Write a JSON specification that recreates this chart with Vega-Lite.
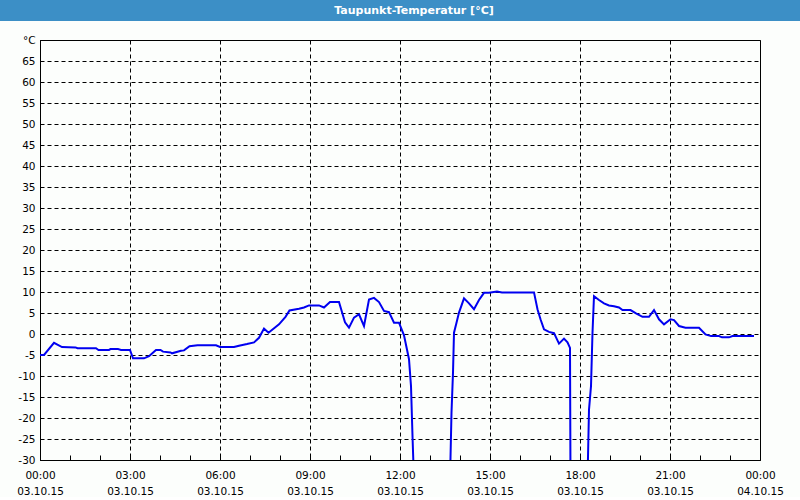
{
  "$schema": "https://vega.github.io/schema/vega-lite/v6.json",
  "background": "#fcfefc",
  "padding": 0,
  "autosize": {"type": "pad"},
  "bounds": "flush",
  "center": true,
  "spacing": 19,
  "config": {"view": {"stroke": null}, "font": "DejaVu Sans"},
  "vconcat": [
    {
      "width": 800,
      "height": 21,
      "view": {"fill": "#3c8fc6", "stroke": null},
      "data": {"values": [{"title": "Taupunkt-Temperatur [°C]"}]},
      "mark": {"type": "text", "color": "white", "fontWeight": "bold", "fontSize": 11, "dx": 14},
      "encoding": {"text": {"field": "title", "type": "nominal"}}
    },
    {
      "width": 720,
      "height": 420,
      "view": {"stroke": "black", "strokeWidth": 1},
      "data": {"values": [
        {"time": "2015-10-03T00:00", "value": -5.0},
        {"time": "2015-10-03T00:08", "value": -5.0},
        {"time": "2015-10-03T00:28", "value": -2.1},
        {"time": "2015-10-03T00:44", "value": -3.1},
        {"time": "2015-10-03T01:11", "value": -3.2},
        {"time": "2015-10-03T01:15", "value": -3.4},
        {"time": "2015-10-03T01:52", "value": -3.4},
        {"time": "2015-10-03T01:57", "value": -3.8},
        {"time": "2015-10-03T02:18", "value": -3.8},
        {"time": "2015-10-03T02:21", "value": -3.6},
        {"time": "2015-10-03T02:36", "value": -3.6},
        {"time": "2015-10-03T02:42", "value": -3.8},
        {"time": "2015-10-03T03:00", "value": -3.8},
        {"time": "2015-10-03T03:06", "value": -5.8},
        {"time": "2015-10-03T03:28", "value": -5.8},
        {"time": "2015-10-03T03:38", "value": -5.3},
        {"time": "2015-10-03T03:52", "value": -3.8},
        {"time": "2015-10-03T04:01", "value": -3.8},
        {"time": "2015-10-03T04:06", "value": -4.2},
        {"time": "2015-10-03T04:21", "value": -4.4},
        {"time": "2015-10-03T04:24", "value": -4.6},
        {"time": "2015-10-03T04:42", "value": -4.0},
        {"time": "2015-10-03T04:48", "value": -3.9},
        {"time": "2015-10-03T04:59", "value": -2.9},
        {"time": "2015-10-03T05:15", "value": -2.7},
        {"time": "2015-10-03T05:52", "value": -2.7},
        {"time": "2015-10-03T06:00", "value": -3.1},
        {"time": "2015-10-03T06:28", "value": -3.1},
        {"time": "2015-10-03T06:38", "value": -2.8},
        {"time": "2015-10-03T06:54", "value": -2.4},
        {"time": "2015-10-03T07:08", "value": -2.0},
        {"time": "2015-10-03T07:18", "value": -0.9},
        {"time": "2015-10-03T07:28", "value": 1.3},
        {"time": "2015-10-03T07:37", "value": 0.3},
        {"time": "2015-10-03T07:58", "value": 2.3},
        {"time": "2015-10-03T08:11", "value": 4.1},
        {"time": "2015-10-03T08:19", "value": 5.6},
        {"time": "2015-10-03T08:38", "value": 6.0},
        {"time": "2015-10-03T08:48", "value": 6.3},
        {"time": "2015-10-03T08:58", "value": 6.8},
        {"time": "2015-10-03T09:18", "value": 6.8},
        {"time": "2015-10-03T09:28", "value": 6.3},
        {"time": "2015-10-03T09:40", "value": 7.6},
        {"time": "2015-10-03T09:58", "value": 7.6},
        {"time": "2015-10-03T10:10", "value": 2.8},
        {"time": "2015-10-03T10:18", "value": 1.5},
        {"time": "2015-10-03T10:28", "value": 3.9},
        {"time": "2015-10-03T10:38", "value": 4.7},
        {"time": "2015-10-03T10:48", "value": 1.9},
        {"time": "2015-10-03T10:58", "value": 8.2},
        {"time": "2015-10-03T11:08", "value": 8.6},
        {"time": "2015-10-03T11:18", "value": 7.6},
        {"time": "2015-10-03T11:28", "value": 5.5},
        {"time": "2015-10-03T11:38", "value": 5.2},
        {"time": "2015-10-03T11:48", "value": 2.7},
        {"time": "2015-10-03T11:58", "value": 2.7},
        {"time": "2015-10-03T12:08", "value": -0.3},
        {"time": "2015-10-03T12:18", "value": -6.0},
        {"time": "2015-10-03T12:22", "value": -12.4},
        {"time": "2015-10-03T12:25", "value": -24.3},
        {"time": "2015-10-03T12:28", "value": -35},
        {"time": "2015-10-03T13:40", "value": -35},
        {"time": "2015-10-03T13:43", "value": -18.7},
        {"time": "2015-10-03T13:46", "value": -9.2},
        {"time": "2015-10-03T13:48", "value": 0.3},
        {"time": "2015-10-03T13:53", "value": 2.7},
        {"time": "2015-10-03T13:58", "value": 5.1},
        {"time": "2015-10-03T14:08", "value": 8.5},
        {"time": "2015-10-03T14:18", "value": 7.3},
        {"time": "2015-10-03T14:28", "value": 5.9},
        {"time": "2015-10-03T14:38", "value": 8.1},
        {"time": "2015-10-03T14:48", "value": 9.8},
        {"time": "2015-10-03T14:58", "value": 9.8},
        {"time": "2015-10-03T15:14", "value": 10.1},
        {"time": "2015-10-03T15:24", "value": 9.9},
        {"time": "2015-10-03T16:28", "value": 9.9},
        {"time": "2015-10-03T16:35", "value": 5.9},
        {"time": "2015-10-03T16:41", "value": 3.5},
        {"time": "2015-10-03T16:48", "value": 1.1},
        {"time": "2015-10-03T16:58", "value": 0.5},
        {"time": "2015-10-03T17:08", "value": 0.2},
        {"time": "2015-10-03T17:18", "value": -2.3},
        {"time": "2015-10-03T17:28", "value": -1.1},
        {"time": "2015-10-03T17:35", "value": -2.0},
        {"time": "2015-10-03T17:40", "value": -3.3},
        {"time": "2015-10-03T17:41", "value": -35},
        {"time": "2015-10-03T18:15", "value": -35},
        {"time": "2015-10-03T18:18", "value": -18.0},
        {"time": "2015-10-03T18:22", "value": -12.4},
        {"time": "2015-10-03T18:25", "value": 0.3},
        {"time": "2015-10-03T18:28", "value": 9.0},
        {"time": "2015-10-03T18:38", "value": 8.1},
        {"time": "2015-10-03T18:48", "value": 7.3},
        {"time": "2015-10-03T18:58", "value": 6.8},
        {"time": "2015-10-03T19:08", "value": 6.6},
        {"time": "2015-10-03T19:18", "value": 6.3},
        {"time": "2015-10-03T19:25", "value": 5.7},
        {"time": "2015-10-03T19:41", "value": 5.7},
        {"time": "2015-10-03T19:52", "value": 4.9},
        {"time": "2015-10-03T20:05", "value": 4.1},
        {"time": "2015-10-03T20:18", "value": 4.1},
        {"time": "2015-10-03T20:28", "value": 5.7},
        {"time": "2015-10-03T20:38", "value": 3.5},
        {"time": "2015-10-03T20:48", "value": 2.3},
        {"time": "2015-10-03T21:01", "value": 3.5},
        {"time": "2015-10-03T21:08", "value": 3.3},
        {"time": "2015-10-03T21:18", "value": 1.9},
        {"time": "2015-10-03T21:31", "value": 1.5},
        {"time": "2015-10-03T21:58", "value": 1.5},
        {"time": "2015-10-03T22:11", "value": -0.1},
        {"time": "2015-10-03T22:22", "value": -0.5},
        {"time": "2015-10-03T22:38", "value": -0.5},
        {"time": "2015-10-03T22:44", "value": -0.8},
        {"time": "2015-10-03T22:58", "value": -0.8},
        {"time": "2015-10-03T23:05", "value": -0.5},
        {"time": "2015-10-03T23:48", "value": -0.5}
      ]},
      "resolve": {"axis": {"x": "independent"}},
      "layer": [
        {
          "mark": {"type": "line", "color": "#0000f0", "strokeWidth": 2, "clip": true},
          "encoding": {
            "x": {
              "field": "time",
              "type": "temporal",
              "scale": {"domain": [{"year": 2015, "month": 10, "date": 3, "hours": 0}, {"year": 2015, "month": 10, "date": 4, "hours": 0}], "nice": false},
              "axis": {
                "orient": "bottom",
                "title": null,
                "tickCount": 8,
                "labelExpr": "[timeFormat(datum.value, '%H:%M'), timeFormat(datum.value, '%d.%m.%y')]",
                "labelOverlap": false,
                "labelFlush": false,
                "labelBaseline": "top",
                "labelPadding": 10,
                "labelLineHeight": 16,
                "labelFontSize": 10.5,
                "labelColor": "black",
                "ticks": false,
                "domainColor": "black",
                "grid": true,
                "gridColor": "black",
                "gridDash": [4, 3]
              }
            },
            "y": {
              "field": "value",
              "type": "quantitative",
              "scale": {"domain": [-30, 70], "nice": false, "zero": false},
              "axis": {
                "title": null,
                "values": [-30, -25, -20, -15, -10, -5, 0, 5, 10, 15, 20, 25, 30, 35, 40, 45, 50, 55, 60, 65, 70],
                "labelExpr": "datum.value == 70 ? '°C' : '' + datum.value",
                "labelFlush": false,
                "labelOverlap": false,
                "labelPadding": 5,
                "labelFontSize": 10.5,
                "labelColor": "black",
                "ticks": false,
                "domainColor": "black",
                "grid": true,
                "gridColor": "black",
                "gridDash": [4, 3]
              }
            }
          }
        },
        {
          "mark": {"type": "tick", "opacity": 0},
          "encoding": {
            "x": {
              "field": "time",
              "type": "temporal",
              "axis": {
                "orient": "bottom",
                "title": null,
                "tickCount": 24,
                "labels": false,
                "grid": false,
                "domain": false,
                "ticks": true,
                "tickSize": 5,
                "tickColor": "black",
                "offset": -5
              }
            }
          }
        }
      ]
    }
  ]
}
